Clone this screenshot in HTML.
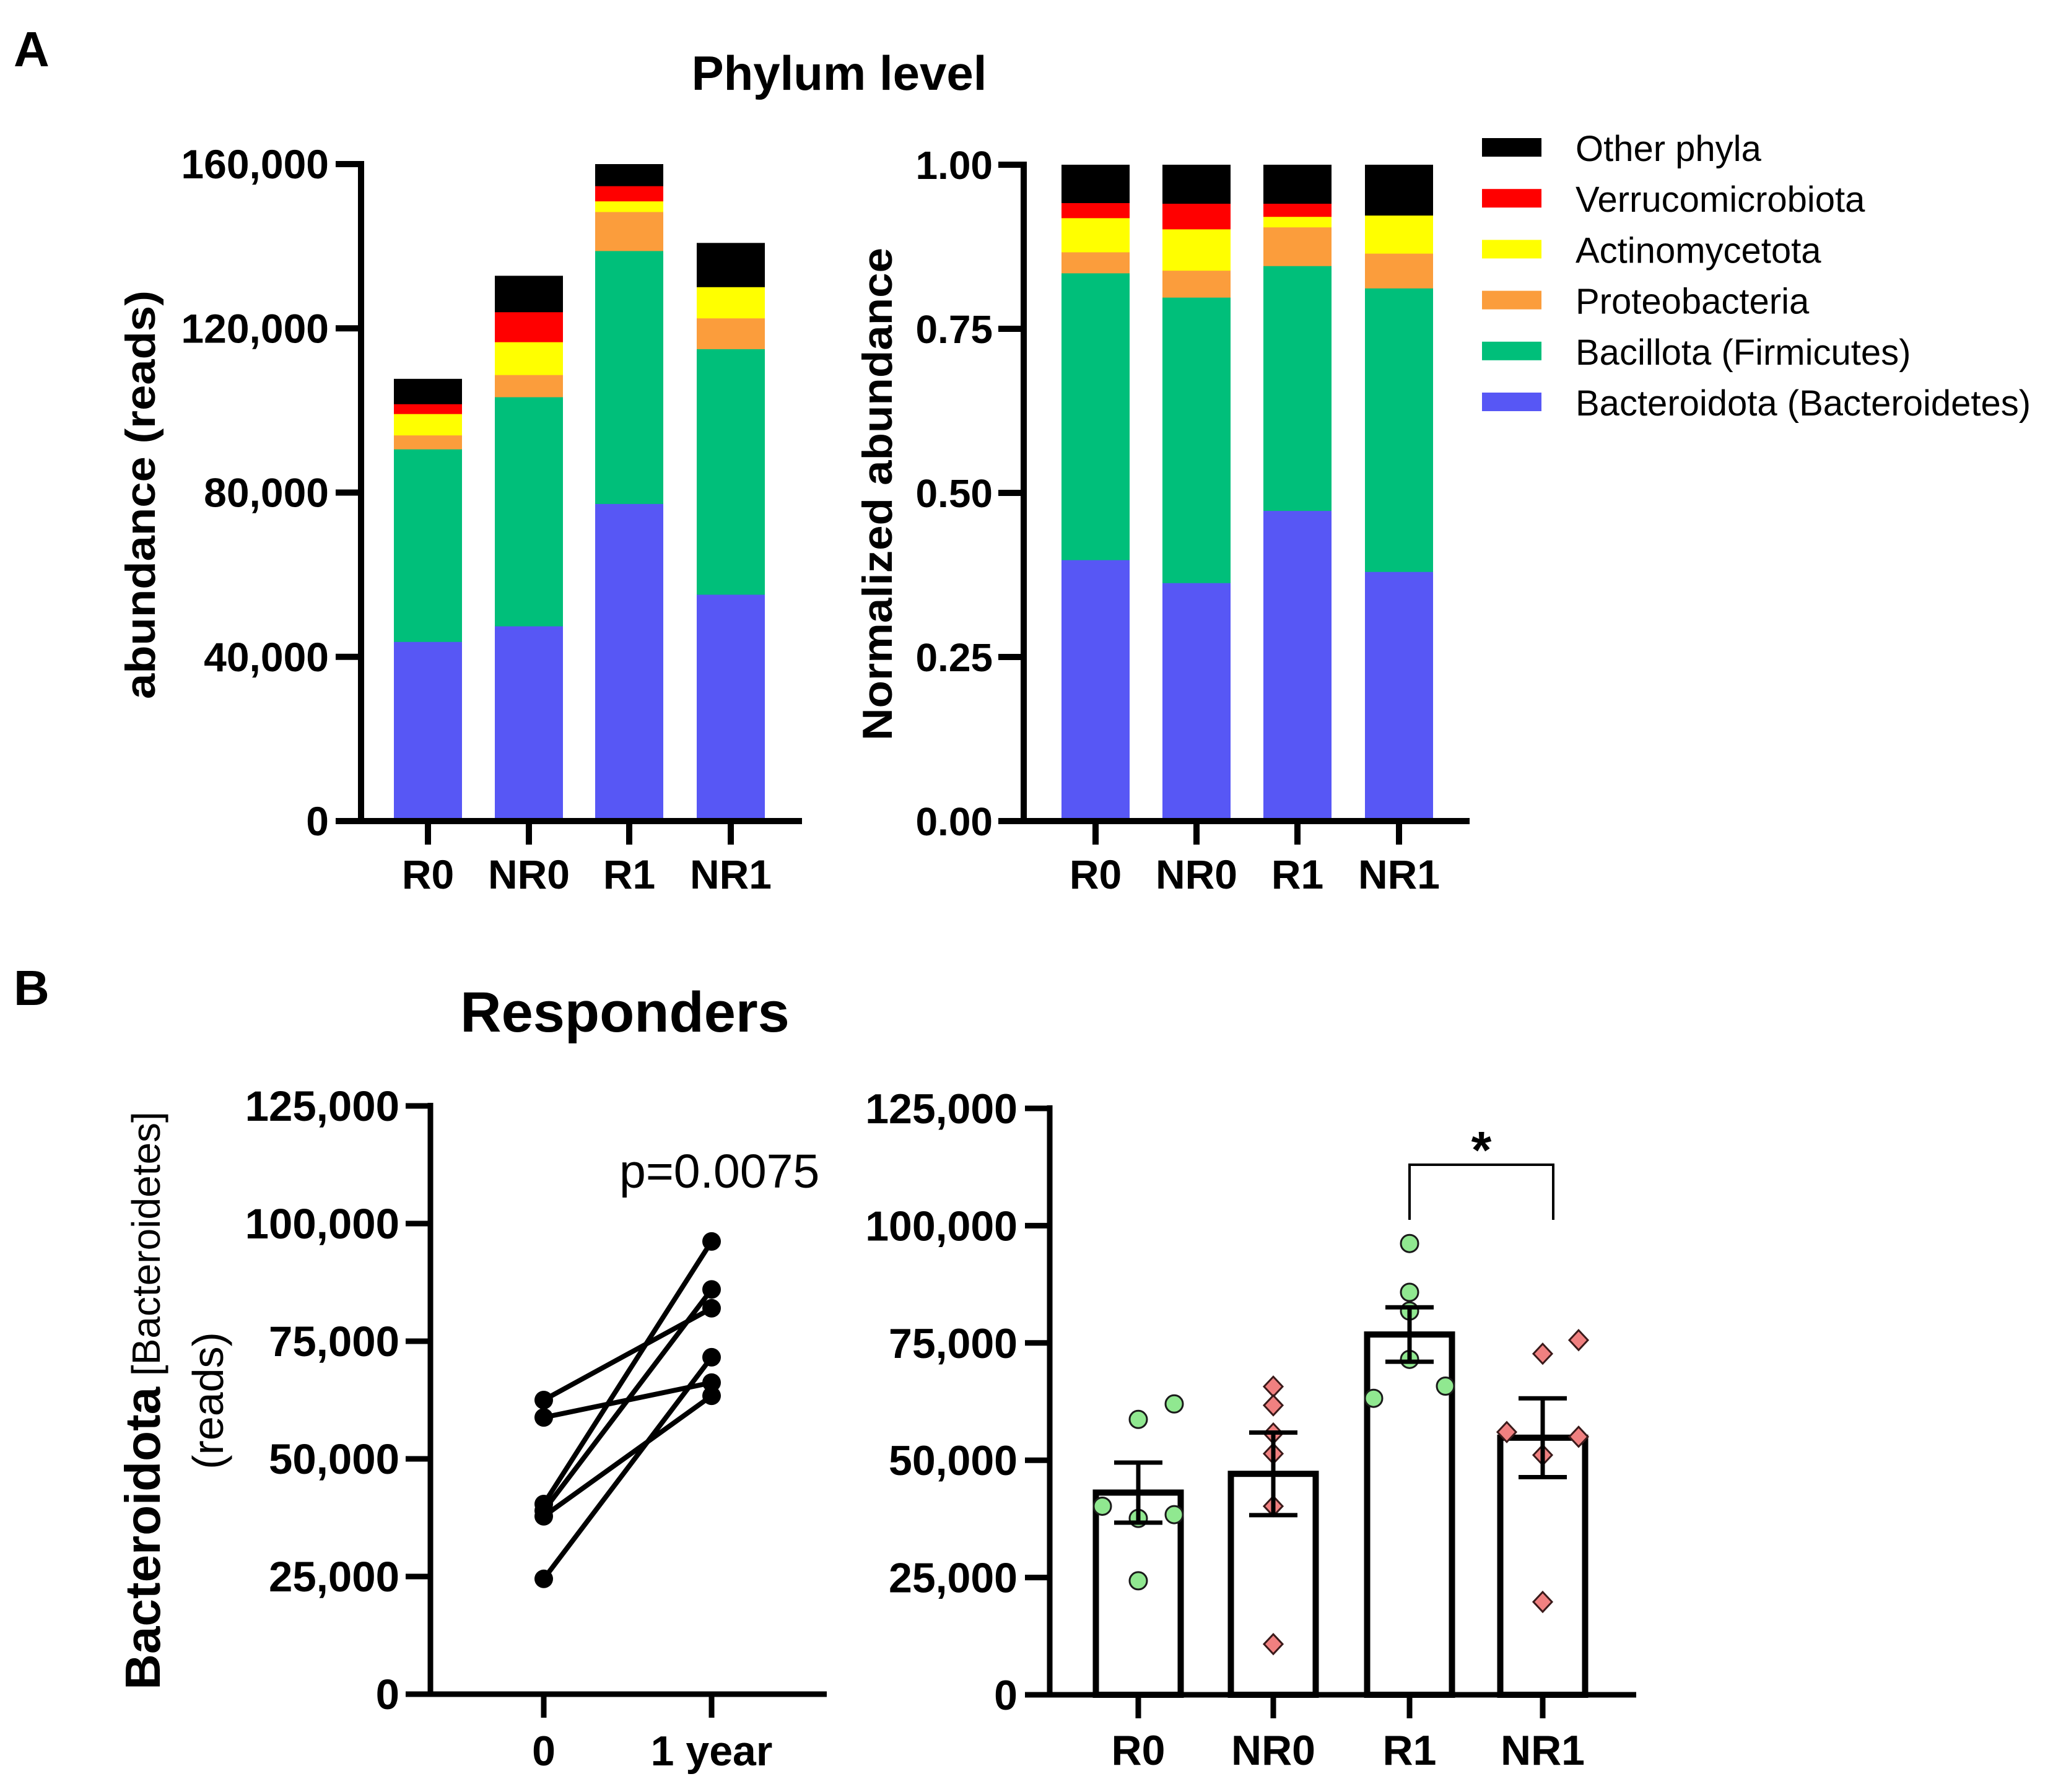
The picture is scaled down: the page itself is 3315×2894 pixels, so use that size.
<!DOCTYPE html>
<html><head><meta charset="utf-8"><style>
html,body{margin:0;padding:0;background:#fff;}
svg{display:block;font-family:"Liberation Sans",Arial,sans-serif;}
</style></head><body>
<svg id="fig" width="3315" height="2894" viewBox="0 0 3315 2894" xmlns="http://www.w3.org/2000/svg">
<text x="22" y="107" font-size="80" font-weight="bold">A</text>
<text x="22" y="1623" font-size="80" font-weight="bold">B</text>
<text x="1355" y="145" font-size="78" font-weight="bold" text-anchor="middle">Phylum level</text>
<text x="1009" y="1666" font-size="92" font-weight="bold" text-anchor="middle">Responders</text>
<text transform="translate(250,799) rotate(-90)" font-size="68" font-weight="bold" text-anchor="middle" textLength="660" lengthAdjust="spacingAndGlyphs">abundance (reads)</text>
<text transform="translate(1440,798) rotate(-90)" font-size="68" font-weight="bold" text-anchor="middle" textLength="796" lengthAdjust="spacingAndGlyphs">Normalized abundance</text>
<text transform="translate(258,2262) rotate(-90)" text-anchor="middle"><tspan font-size="80" font-weight="bold">Bacteroidota</tspan><tspan font-size="64"> [Bacteroidetes]</tspan></text>
<text transform="translate(360,2262) rotate(-90)" font-size="70" text-anchor="middle">(reads)</text>
<text x="1000" y="1918" font-size="77">p=0.0075</text>
<g id="root"></g>
</svg>
<script>
// ---- data ----
var groups = ["R0","NR0","R1","NR1"];
var phyla = ["Bacteroidota (Bacteroidetes)","Bacillota (Firmicutes)","Proteobacteria","Actinomycetota","Verrucomicrobiota","Other phyla"];
var phylaColors = ["#5757f5","#00bf7a","#fb9d3c","#ffff00","#ff0000","#000000"];
var readsBacteroidota = [43.7,47.5,77.3,55.2];
var readsBacillota = [46.9,55.8,61.6,59.8];
var readsProteo = [3.4,5.4,9.5,7.5];
var readsActino = [5.2,8.0,2.6,7.6];
var readsVerruco = [2.4,7.3,3.7,0];
var readsOther = [6.1,8.8,5.3,10.7];
var normBacteroidota = [0.398,0.363,0.473,0.380];
var normBacillota = [0.437,0.435,0.373,0.432];
var normProteo = [0.032,0.041,0.059,0.053];
var normActino = [0.052,0.063,0.016,0.058];
var normVerruco = [0.023,0.039,0.020,0];
var normOther = [0.058,0.059,0.059,0.077];
var readsTicks = ["0","40,000","80,000","120,000","160,000"];
var normTicks = ["0.00","0.25","0.50","0.75","1.00"];
var pairedStart = [62.5,58.8,40.4,39.0,37.8,24.5];
var pairedEnd = [82.0,66.2,96.2,86.0,63.4,71.6];
var pairedLabels = ["0","1 year"];
var bTicks = ["0","25,000","50,000","75,000","100,000","125,000"];
var barMeans = [43.1,47.1,76.8,54.8];
var barSem = [6.4,8.8,5.8,8.4];
var ptsR0 = [40.2,58.7,62.0,37.6,38.4,24.3];
var ptsNR0 = [65.7,61.7,55.7,51.4,40.2,10.8];
var ptsR1 = [96.2,85.8,81.8,71.5,63.2,65.8];
var ptsNR1 = [75.6,72.7,56.0,55.0,51.1,19.8];
var jR0 = [-1,0,1,0,1,0];
var jNR0 = [0,0,0,0,0,0];
var jR1 = [0,0,0,0,-1,1];
var jNR1 = [1,0,-1,1,0,0];

var NS="http://www.w3.org/2000/svg";
var root=document.getElementById('root');
function mk(tag,attrs,parent){var e=document.createElementNS(NS,tag);for(var k in attrs)e.setAttribute(k,attrs[k]);(parent||root).appendChild(e);return e;}

// ---- Panel A left: stacked reads ----
(function(){
  var x0=583,y0=1326,yTop=265,xEnd=1295,max=160;
  var cx=[691,854,1016,1180],bw=110;
  function y(v){return y0-(v/max)*(y0-yTop);}
  var series=[readsBacteroidota,readsBacillota,readsProteo,readsActino,readsVerruco,readsOther];
  for(var g=0;g<groups.length;g++){var acc=0;
    for(var s=0;s<series.length;s++){var v=series[s][g];if(v<=0){continue;}
      var r=mk('rect',{x:cx[g]-bw/2,y:y(acc+v),width:bw,height:y(acc)-y(acc+v)+0.5,fill:phylaColors[s]});
      
      
      acc+=v;}
  }
  var ax=mk('path',{d:'M'+x0+' '+(yTop-5)+'V'+y0+'H'+xEnd,stroke:'#000','stroke-width':10,fill:'none'});
  
  
  for(var i=0;i<readsTicks.length;i++){var yy=y(i*40);
    var t=mk('line',{x1:x0-41,x2:x0,y1:yy,y2:yy,stroke:'#000','stroke-width':10});
    
    
    var l=mk('text',{x:x0-52,y:yy+23,'font-size':66,'font-weight':'bold','text-anchor':'end'});l.textContent=readsTicks[i];
    
    }
  for(var g=0;g<groups.length;g++){
    var t=mk('line',{x1:cx[g],x2:cx[g],y1:y0,y2:y0+38,stroke:'#000','stroke-width':10});
    
    
    var l=mk('text',{x:cx[g],y:1435,'font-size':66,'font-weight':'bold','text-anchor':'middle'});l.textContent=groups[g];
    
    }
})();

// ---- Panel A right: normalized ----
(function(){
  var x0=1653,y0=1326,yTop=266,xEnd=2373;
  var cx=[1769,1932,2095,2259],bw=110;
  function y(v){return y0-v*(y0-yTop);}
  var series=[normBacteroidota,normBacillota,normProteo,normActino,normVerruco,normOther];
  for(var g=0;g<groups.length;g++){var acc=0;
    for(var s=0;s<series.length;s++){var v=series[s][g];if(v<=0){continue;}
      var r=mk('rect',{x:cx[g]-bw/2,y:y(acc+v),width:bw,height:y(acc)-y(acc+v)+0.5,fill:phylaColors[s]});
      
      
      acc+=v;}
  }
  var ax=mk('path',{d:'M'+x0+' '+(yTop-5)+'V'+y0+'H'+xEnd,stroke:'#000','stroke-width':10,fill:'none'});
  
  
  for(var i=0;i<normTicks.length;i++){var yy=y(i*0.25);
    var t=mk('line',{x1:x0-41,x2:x0,y1:yy,y2:yy,stroke:'#000','stroke-width':10});
    
    
    var l=mk('text',{x:x0-50,y:yy+23,'font-size':64,'font-weight':'bold','text-anchor':'end'});l.textContent=normTicks[i];
    
    }
  for(var g=0;g<groups.length;g++){
    var t=mk('line',{x1:cx[g],x2:cx[g],y1:y0,y2:y0+38,stroke:'#000','stroke-width':10});
    
    
    var l=mk('text',{x:cx[g],y:1435,'font-size':66,'font-weight':'bold','text-anchor':'middle'});l.textContent=groups[g];
    
    }
  for(var k=0;k<phyla.length;k++){var idx=phyla.length-1-k;var yc=238+k*82.2;
    var sw=mk('rect',{x:2393,y:yc-15,width:96,height:30,fill:phylaColors[idx]});
    
    
    var tx=mk('text',{x:2544,y:yc+22,'font-size':58});tx.textContent=phyla[idx];
    
    }
})();

// ---- Panel B left: paired ----
(function(){
  var x0=695,y0=2736,yTop=1786,xEnd=1335,max=125;
  var xs=[878,1149];
  function y(v){return y0-(v/max)*(y0-yTop);}
  var ax=mk('path',{d:'M'+x0+' '+(yTop-5)+'V'+y0+'H'+xEnd,stroke:'#000','stroke-width':9,fill:'none'});
  
  
  for(var i=0;i<bTicks.length;i++){var yy=y(i*25);
    var t=mk('line',{x1:x0-40,x2:x0,y1:yy,y2:yy,stroke:'#000','stroke-width':9});
    
    
    var l=mk('text',{x:x0-50,y:yy+24,'font-size':69,'font-weight':'bold','text-anchor':'end'});l.textContent=bTicks[i];
    
    }
  for(var j=0;j<2;j++){
    var t=mk('line',{x1:xs[j],x2:xs[j],y1:y0,y2:y0+38,stroke:'#000','stroke-width':9});
    
    
    var l=mk('text',{x:xs[j],y:2851,'font-size':68,'font-weight':'bold','text-anchor':'middle'});l.textContent=pairedLabels[j];
    
    }
  for(var i=0;i<pairedStart.length;i++){
    var ln=mk('line',{x1:xs[0],y1:y(pairedStart[i]),x2:xs[1],y2:y(pairedEnd[i]),stroke:'#000','stroke-width':8});
    
    
    var c1=mk('circle',{cx:xs[0],cy:y(pairedStart[i]),r:15,fill:'#000'});
    
    
    var c2=mk('circle',{cx:xs[1],cy:y(pairedEnd[i]),r:15,fill:'#000'});
    
    }
})();

// ---- Panel B right: bars with points ----
(function(){
  var x0=1695,y0=2737,yTop=1790,xEnd=2642,max=125;
  var cx=[1838,2056,2276,2491],bw=137;
  function y(v){return y0-(v/max)*(y0-yTop);}
  for(var g=0;g<groups.length;g++){
    var b=mk('rect',{x:cx[g]-bw/2,y:y(barMeans[g]),width:bw,height:y0-y(barMeans[g]),fill:'#fff',stroke:'#000','stroke-width':10});
    
    
  }
  var ax=mk('path',{d:'M'+x0+' '+(yTop-5)+'V'+y0+'H'+xEnd,stroke:'#000','stroke-width':9,fill:'none'});
  
  
  for(var i=0;i<bTicks.length;i++){var yy=y(i*25);
    var t=mk('line',{x1:x0-40,x2:x0,y1:yy,y2:yy,stroke:'#000','stroke-width':9});
    
    
    var l=mk('text',{x:x0-52,y:yy+24,'font-size':68,'font-weight':'bold','text-anchor':'end'});l.textContent=bTicks[i];
    
    }
  for(var g=0;g<groups.length;g++){
    var t=mk('line',{x1:cx[g],x2:cx[g],y1:y0,y2:y0+38,stroke:'#000','stroke-width':9});
    
    
    var l=mk('text',{x:cx[g],y:2850,'font-size':68,'font-weight':'bold','text-anchor':'middle'});l.textContent=groups[g];
    
    }
  var pts=[ptsR0,ptsNR0,ptsR1,ptsNR1],jit=[jR0,jNR0,jR1,jNR1];
  for(var g=0;g<groups.length;g++){
    for(var i=0;i<pts[g].length;i++){var px=cx[g]+jit[g][i]*58,py=y(pts[g][i]);
      var m;
      if(g%2===0){m=mk('circle',{cx:px,cy:py,r:14,fill:'#90e890',stroke:'#1a1a1a','stroke-width':3});}
      else{m=mk('path',{d:'M'+px+' '+(py-16)+'L'+(px+15)+' '+py+'L'+px+' '+(py+16)+'L'+(px-15)+' '+py+'Z',fill:'#f08080',stroke:'#3a1a1a','stroke-width':3});}
      
      }
    var hi=y(barMeans[g]+barSem[g]),lo=y(barMeans[g]-barSem[g]);
    var e=mk('path',{d:'M'+cx[g]+' '+hi+'V'+lo+'M'+(cx[g]-39)+' '+hi+'H'+(cx[g]+39)+'M'+(cx[g]-39)+' '+lo+'H'+(cx[g]+39),stroke:'#000','stroke-width':7,fill:'none'});
    
    
  }
  var br=mk('path',{d:'M'+cx[2]+' 1970V1881H2508V1970',stroke:'#000','stroke-width':4,fill:'none'});
  
  
  var st=mk('text',{x:2392,y:1886,'font-size':84,'font-weight':'bold','text-anchor':'middle'});st.textContent='*';
  
  
})();
</script>
</body></html>
